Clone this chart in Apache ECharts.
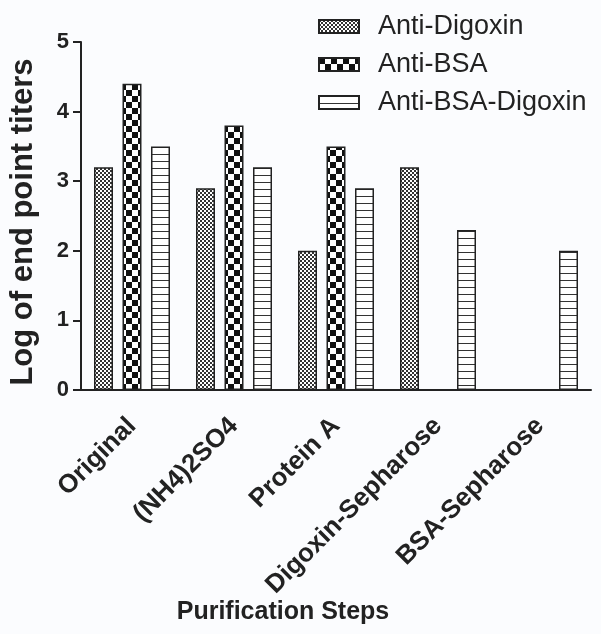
<!DOCTYPE html>
<html>
<head>
<meta charset="utf-8">
<script src="https://cdn.jsdelivr.net/npm/echarts@6/dist/echarts.min.js"></script>
<style>
  html, body { margin: 0; padding: 0; background: #fbfcfe; }
  #main { width: 601px; height: 634px; }
</style>
</head>
<body>
<div id="main"></div>
<script>
// 数据
let categories = ["Original", "(NH4)2SO4", "Protein A", "Digoxin-Sepharose", "BSA-Sepharose"];
let antiDigoxin = [3.2, 2.9, 2.0, 3.2, null];
let antiBSA = [4.4, 3.8, 3.5, null, null];
let antiBSADigoxin = [3.5, 3.2, 2.9, 2.3, 2.0];
let yTicks = [0, 1, 2, 3, 4, 5];

let FONT = "'Liberation Sans', Arial, sans-serif";
let INK = "#222";

// 画填充图案
function makePattern(kind) {
  let c = document.createElement("canvas");
  let ctx;
  if (kind === "fine") {
    c.width = 4; c.height = 4;
    ctx = c.getContext("2d");
    ctx.fillStyle = "#fff"; ctx.fillRect(0, 0, 4, 4);
    ctx.fillStyle = "#333";
    ctx.fillRect(0, 0, 2, 2);
    ctx.fillRect(2, 2, 2, 2);
  } else if (kind === "check") {
    c.width = 12; c.height = 12;
    ctx = c.getContext("2d");
    ctx.fillStyle = "#fff"; ctx.fillRect(0, 0, 12, 12);
    ctx.fillStyle = "#111";
    ctx.fillRect(0, 0, 6, 6);
    ctx.fillRect(6, 6, 6, 6);
  } else {
    c.width = 4; c.height = 7;
    ctx = c.getContext("2d");
    ctx.fillStyle = "#fff"; ctx.fillRect(0, 0, 4, 7);
    ctx.fillStyle = "#333";
    ctx.fillRect(0, 0, 4, 1);
  }
  return { image: c, repeat: "repeat" };
}

function barSeries(name, data, kind) {
  return {
    name: name,
    type: "bar",
    data: data,
    barWidth: 19,
    barGap: "50%",
    itemStyle: {
      color: makePattern(kind),
      borderColor: INK,
      borderWidth: 1.5
    }
  };
}

let myChart = echarts.init(document.getElementById("main"));
let opts = {
  backgroundColor: "#fbfcfe",
  animation: false,
  grid: { left: 79, right: 10, top: 42, bottom: 244 },
  legend: {
    orient: "vertical",
    left: 313,
    top: 8,
    icon: "rect",
    itemWidth: 40,
    itemHeight: 13,
    itemGap: 11,
    selectedMode: false,
    textStyle: {
      fontFamily: FONT,
      fontSize: 27,
      lineHeight: 26,
      color: INK,
      padding: [0, 0, 0, 14]
    },
    data: ["Anti-Digoxin", "Anti-BSA", "Anti-BSA-Digoxin"]
  },
  xAxis: {
    type: "category",
    data: categories,
    axisLine: { lineStyle: { color: INK, width: 2 } },
    axisTick: { alignWithLabel: true, length: 8, lineStyle: { color: INK, width: 2 } },
    axisLabel: {
      rotate: 45,
      margin: 32,
      interval: 0,
      fontFamily: FONT,
      fontWeight: "bold",
      fontSize: 26,
      color: INK
    }
  },
  yAxis: {
    type: "value",
    min: yTicks[0],
    max: yTicks[yTicks.length - 1],
    interval: 1,
    name: "Log of end point titers",
    nameLocation: "middle",
    nameGap: 42,
    nameTextStyle: {
      fontFamily: FONT,
      fontWeight: "bold",
      fontSize: 31,
      color: INK,
      padding: [0, 12, 0, 0]
    },
    splitLine: { show: false },
    axisLine: { show: true, lineStyle: { color: INK, width: 2 } },
    axisTick: { show: true, length: 8, lineStyle: { color: INK, width: 2 } },
    axisLabel: {
      margin: 12,
      fontFamily: FONT,
      fontWeight: "bold",
      fontSize: 22,
      color: INK
    }
  },
  graphic: [{
    type: "text",
    x: 283,
    y: 612,
    style: {
      text: "Purification Steps",
      fontFamily: FONT,
      fontWeight: "bold",
      fontSize: 25,
      fill: INK,
      textAlign: "center",
      textVerticalAlign: "middle"
    }
  }],
  series: [
    barSeries("Anti-Digoxin", antiDigoxin, "fine"),
    barSeries("Anti-BSA", antiBSA, "check"),
    barSeries("Anti-BSA-Digoxin", antiBSADigoxin, "lines")
  ]
};
myChart.setOption(opts);
</script>
</body>
</html>
